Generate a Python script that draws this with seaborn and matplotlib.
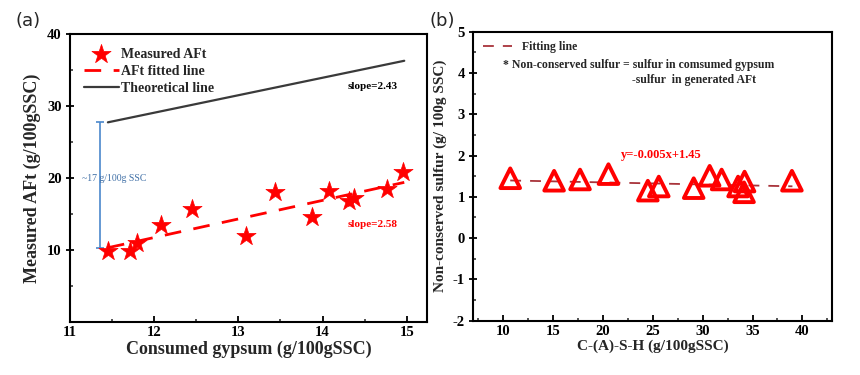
import numpy as np
import pandas as pd
import matplotlib
matplotlib.use("Agg")
import matplotlib.pyplot as plt
import seaborn as sns

# panel (a): measured AFt vs consumed gypsum
gypsum = [11.45, 11.71, 11.79, 12.08, 12.45, 13.09, 13.44, 13.88, 14.08, 14.31, 14.37, 14.76, 14.95]
aft = [9.8, 9.8, 11.0, 13.5, 15.7, 11.9, 18.1, 14.6, 18.2, 16.8, 17.2, 18.5, 20.8]
fit_x = [11.45, 14.97]
fit_slope, fit_icpt = 2.58, -19.22
theo_x = [11.45, 14.97]
theo_slope, theo_icpt = 2.43, -0.08
gap_x = 11.356
gap_lo, gap_hi = 10.3, 27.8

# panel (b): non-conserved sulfur vs C-(A)-S-H
csh = [10.7, 15.1, 17.7, 20.55, 24.5, 25.6, 29.1, 30.7, 31.9, 33.55, 34.2, 34.15, 38.95]
sulfur = [1.45, 1.39, 1.42, 1.55, 1.15, 1.25, 1.21, 1.51, 1.42, 1.25, 1.37, 1.11, 1.39]
fit2_x = [10.7, 39.0]
fit2_slope, fit2_icpt = -0.005, 1.45

sns.set_theme(style="white")
plt.rcParams['font.family'] = ['Liberation Serif', 'DejaVu Serif']
plt.rcParams['font.weight'] = 'bold'
plt.rcParams['axes.labelweight'] = 'bold'
plt.rcParams['axes.unicode_minus'] = False

fig = plt.figure(figsize=(8.6, 3.75), dpi=100)
ax1 = fig.add_axes([0.0814, 0.1413, 0.4151, 0.7677])
ax2 = fig.add_axes([0.5504, 0.1448, 0.4174, 0.7707])

df_a = pd.DataFrame({'x': gypsum, 'y': aft})
df_fit = pd.DataFrame({'x': fit_x, 'y': [fit_slope * v + fit_icpt for v in fit_x]})
df_theo = pd.DataFrame({'x': theo_x, 'y': [theo_slope * v + theo_icpt for v in theo_x]})

sns.scatterplot(data=df_a, x='x', y='y', ax=ax1, marker='*', s=210, color='#ff0000',
                edgecolor='#ff0000', linewidth=0.5, label='Measured AFt', zorder=3)
sns.lineplot(data=df_fit, x='x', y='y', ax=ax1, color='#ff0000', lw=2,
             label='AFt fitted line', zorder=2)
ax1.lines[-1].set_dashes((6, 4.5))
sns.lineplot(data=df_theo, x='x', y='y', ax=ax1, color='#3a3a3a', lw=1.6,
             label='Theoretical line', zorder=2)
ax1.errorbar(gap_x, (gap_lo + gap_hi) / 2, yerr=(gap_hi - gap_lo) / 2, color='#4a88cc',
             capsize=3, lw=1.2, capthick=1.2)
ax1.text(11.53, 19.9, '~17 g/100g SSC', color='#3f6fa6', fontsize=7, fontweight='normal',
         ha='center', va='center')
ax1.text(14.6, 32.7, 'slope=2.43', color='black', fontsize=8, ha='center', va='center')
ax1.text(14.6, 13.6, 'slope=2.58', color='#ff0000', fontsize=8, ha='center', va='center')

ax1.set_xlim(11, 15.24)
ax1.set_ylim(0, 40)
ax1.set_xticks([11, 12, 13, 14, 15])
ax1.set_xticks(np.arange(11.5, 15.2, 1), minor=True)
ax1.set_yticks([10, 20, 30, 40])
ax1.set_yticks([5, 15, 25, 35], minor=True)
ax1.set_xlabel('Consumed gypsum (g/100gSSC)', fontsize=13, labelpad=1)
ax1.set_ylabel('Measured AFt (g/100gSSC)', fontsize=13, labelpad=4)
ax1.legend(loc='upper left', frameon=False, handlelength=2.5,
           borderaxespad=0.6, labelspacing=0.3, handletextpad=0.15,
           prop={'family': 'Liberation Serif', 'weight': 'bold', 'size': 10})

df_b = pd.DataFrame({'x': csh, 'y': sulfur})
df_fit2 = pd.DataFrame({'x': fit2_x, 'y': [fit2_slope * v + fit2_icpt for v in fit2_x]})
sns.lineplot(data=df_fit2, x='x', y='y', ax=ax2, color='#a8333a', lw=1.3,
             label='Fitting line', zorder=2)
ax2.lines[-1].set_dashes((6, 5))
sns.scatterplot(data=df_b, x='x', y='y', ax=ax2, marker='^', s=200, facecolor='none',
                edgecolor='#ff0000', linewidth=2.8, zorder=3, legend=False)
ax2.text(25.8, 2.01, 'y=-0.005x+1.45', color='#ff0000', fontsize=9, ha='center', va='center')
ax2.text(10.0, 4.19, '* Non-conserved sulfur = sulfur in comsumed gypsum', fontsize=8.5,
         ha='left', va='center')
ax2.text(22.9, 3.82, '-sulfur  in generated AFt', fontsize=8.5, ha='left', va='center')

ax2.set_xlim(7, 43)
ax2.set_ylim(-2, 5)
ax2.set_xticks([10, 15, 20, 25, 30, 35, 40])
ax2.set_xticks(np.arange(7.5, 43, 2.5), minor=True)
ax2.set_yticks(range(-2, 6))
ax2.set_yticks(np.arange(-1.5, 5, 1), minor=True)
ax2.set_xlabel('C-(A)-S-H (g/100gSSC)', fontsize=11, labelpad=1)
ax2.set_ylabel('Non-conserved sulfur (g/ 100g SSC)', fontsize=11, labelpad=4)
ax2.legend(loc='upper left', frameon=False, handlelength=2.5,
           borderaxespad=0.4, handletextpad=0.8,
           prop={'family': 'Liberation Serif', 'weight': 'bold', 'size': 8.5})

for ax in (ax1, ax2):
    for sp in ax.spines.values():
        sp.set_linewidth(1.5)
        sp.set_color('black')
    ax.tick_params(axis='both', which='major', direction='in', length=4, width=1.3,
                   labelsize=10.5, pad=3, colors='black')
    ax.tick_params(axis='both', which='minor', direction='in', length=2.5, width=1.1)
    ax.tick_params(axis='y', which='major', direction='inout', length=6)
    ax.tick_params(bottom=True, left=True, which='both')
    for lab in ax.get_xticklabels() + ax.get_yticklabels():
        lab.set_fontfamily('Liberation Serif')
        lab.set_fontweight('bold')

fig.text(0.018, 0.945, '(a)', fontsize=13, family='DejaVu Sans', fontweight='normal',
         ha='left', va='center')
fig.text(0.499, 0.945, '(b)', fontsize=13, family='DejaVu Sans', fontweight='normal',
         ha='left', va='center')

fig.savefig('out.png', dpi=100)
